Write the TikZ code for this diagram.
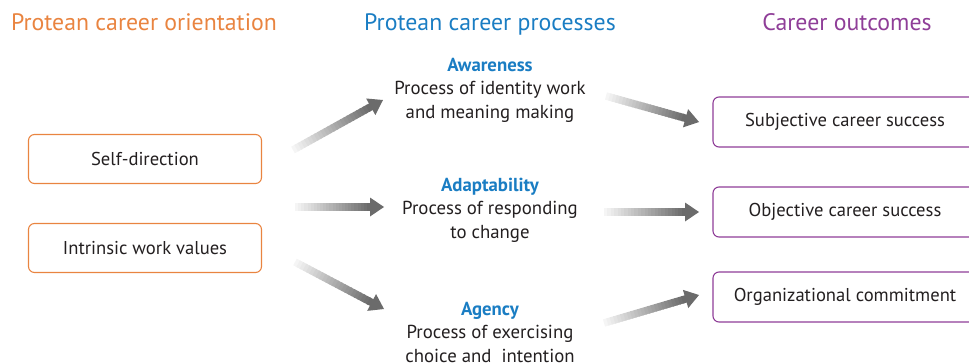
\documentclass[tikz,border=0pt]{standalone}
\usepackage{fontspec}
\setmainfont{PT Sans}
\usetikzlibrary{calc}
\definecolor{orientorange}{RGB}{233,132,64}
\definecolor{procblue}{RGB}{26,125,195}
\definecolor{outpurple}{RGB}{143,62,152}
\definecolor{bodytext}{RGB}{35,31,32}
\tikzset{
  colhead/.style={font=\fontsize{23.8}{28}\selectfont, anchor=base},
  orientbox/.style={draw=orientorange, line width=1.1pt, rounded corners=6pt,
    minimum width=233pt, minimum height=49pt, text=bodytext,
    font=\fontsize{18.6}{22}\selectfont},
  outbox/.style={draw=outpurple, line width=1.1pt, rounded corners=6pt,
    minimum width=264pt, minimum height=50pt, text=bodytext,
    font=\fontsize{18.6}{22}\selectfont},
  proc/.style={align=center, text=bodytext, font=\fontsize{18.8}{23.5}\selectfont},
}
% grey arrow that fades in from its tail
\newcommand{\fadearrow}[2]{%
  \coordinate (hb) at ($(#2)!14pt!(#1)$);
  \foreach \k in {0,...,23}{
    \pgfmathsetmacro{\lev}{4+54*\k/23}
    \draw[line width=7.5pt, draw=black!\lev] ($(#1)!{\k/24}!(hb)$) -- ($(#1)!{(\k+1.4)/24}!(hb)$);
  }
  \fill[black!58] (#2) -- ($(hb)!9.5pt!90:(#2)$) -- ($(hb)!9.5pt!-90:(#2)$) -- cycle;
}
\begin{document}
\begin{tikzpicture}[x=1pt, y=-1pt]
  \useasboundingbox (0,0) rectangle (969,364);

  % column heads
  \node[colhead, text=orientorange] (hOrient) at (144,30) {Protean career orientation};
  \node[colhead, text=procblue] (hProc) at (490,30) {Protean career processes};
  \node[colhead, text=outpurple] (hOut) at (847,30) {Career outcomes};

  % orientation
  \node[orientbox] (selfdir) at (145,159) {Self-direction};
  \node[orientbox] (intrinsic) at (145,248) {Intrinsic work values};

  % processes
  \node[proc] (aware) at (490,90) {\textcolor{procblue}{\textbf{Awareness}}\\Process of identity work\\and meaning making};
  \node[proc] (adapt) at (490,210) {\textcolor{procblue}{\textbf{Adaptability}}\\Process of responding\\to change};
  \node[proc] (agency) at (490,332) {\textcolor{procblue}{\textbf{Agency}}\\Process of exercising\\choice and\ \ intention};

  % outcomes
  \node[outbox] (subj) at (845,122) {Subjective career success};
  \node[outbox] (obj) at (845,212) {Objective career success};
  \node[outbox] (orgcom) at (845,297) {Organizational commitment};

  % arrows
  \coordinate (l1s) at (293,150);  \coordinate (l1e) at (383,100);
  \coordinate (l2s) at (295,207);  \coordinate (l2e) at (384,207);
  \coordinate (l3s) at (295,262);  \coordinate (l3e) at (384,309);
  \coordinate (r1s) at (606,96);   \coordinate (r1e) at (699,122);
  \coordinate (r2s) at (604,212);  \coordinate (r2e) at (699,212);
  \coordinate (r3s) at (604,323);  \coordinate (r3e) at (699,295);
  \fadearrow{l1s}{l1e}
  \fadearrow{l2s}{l2e}
  \fadearrow{l3s}{l3e}
  \fadearrow{r1s}{r1e}
  \fadearrow{r2s}{r2e}
  \fadearrow{r3s}{r3e}
\end{tikzpicture}
\end{document}
